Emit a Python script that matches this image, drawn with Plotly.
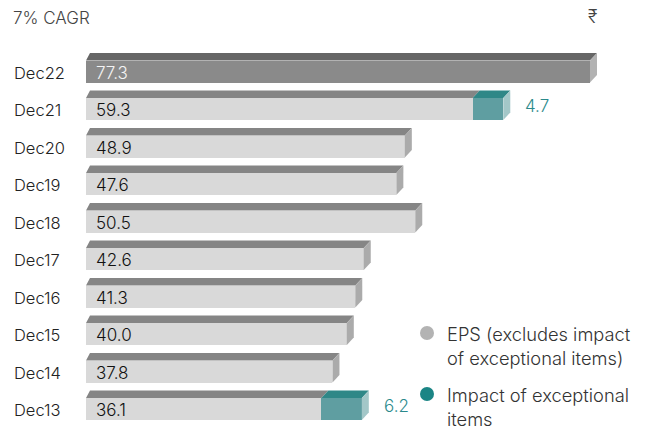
import plotly.graph_objects as go

# ---- data ----
years = ["Dec22", "Dec21", "Dec20", "Dec19", "Dec18", "Dec17", "Dec16", "Dec15", "Dec14", "Dec13"]
eps = [77.3, 59.3, 48.9, 47.6, 50.5, 42.6, 41.3, 40.0, 37.8, 36.1]
exceptional = [0, 4.7, 0, 0, 0, 0, 0, 0, 0, 6.2]
title_text = "7% CAGR"
currency = "₹"
legend_labels = ["EPS (excludes impact<br>of exceptional items)", "Impact of exceptional<br>items"]

# ---- layout constants ----
W, H = 647, 430
ML, MR, MT, MB = 86, 0, 45, 0
PW, PH = W - ML - MR, H - MT - MB
PX_PER_UNIT = 6.52
XMAX = PW / PX_PER_UNIT
ROW_PX = 37.5
Y_TOP = -(71.5 - MT) / ROW_PX  # value at top of plot (index of Dec22 = 0)
Y_BOT = Y_TOP + PH / ROW_PX
BAR_W = 22 / ROW_PX
DY = 7.5 / ROW_PX
DXL = 4 / PX_PER_UNIT
DXR = 7 / PX_PER_UNIT

FONT = "Inter"
WEIGHT = 300
GRAY_FRONT, GRAY_TOP, GRAY_SIDE = "#d9d9d9", "#858585", "#ababab"
DARK_FRONT, DARK_TOP, DARK_SIDE = "#8a8a8a", "#666666", "#b2b2b2"
TEAL_FRONT, TEAL_TOP, TEAL_SIDE = "#5f9ea1", "#2f8787", "#a3c7c8"
TEAL_TEXT = "#2b8a8c"

front_colors = [DARK_FRONT if i == 0 else GRAY_FRONT for i in range(len(years))]

fig = go.Figure()
fig.add_trace(go.Bar(
    y=years, x=eps, orientation="h", marker=dict(color=front_colors, line=dict(width=0)),
    width=BAR_W, showlegend=False, hoverinfo="x+y",
))
fig.add_trace(go.Bar(
    y=years, x=exceptional, orientation="h", marker=dict(color=TEAL_FRONT, line=dict(width=0)),
    width=BAR_W, showlegend=False, hoverinfo="x+y",
))

shapes = []
annotations = []


def px_x(p):
    return (p - ML) / PW


def px_y(p):
    return 1 - (p - MT) / PH


def para(x0, x1, ytop, color, dxl, dxr):
    yb = ytop
    yt = ytop - DY
    return dict(type="path", xref="x", yref="y", layer="above",
                path=f"M {x0},{yb} L {x1},{yb} L {x1 + dxr},{yt} L {x0 + dxl},{yt} Z",
                fillcolor=color, line=dict(width=0))


for i, (yr, v, e) in enumerate(zip(years, eps, exceptional)):
    ytop = i - BAR_W / 2
    ybot = i + BAR_W / 2
    top_col = DARK_TOP if i == 0 else GRAY_TOP
    side_col = DARK_SIDE if i == 0 else GRAY_SIDE
    end = v + e
    shapes.append(para(0, v, ytop, top_col, DXL, DXR))
    if e > 0:
        shapes.append(para(v, end, ytop, TEAL_TOP, DXR, DXR))
        side_col = TEAL_SIDE
    shapes.append(dict(type="path", xref="x", yref="y", layer="above",
                       path=f"M {end},{ytop} L {end + DXR},{ytop - DY} L {end + DXR},{ybot - DY} L {end},{ybot} Z",
                       fillcolor=side_col, line=dict(width=0)))
    # category label (left aligned)
    annotations.append(dict(x=px_x(12), y=yr, xref="paper", yref="y", text=yr, showarrow=False,
                            xanchor="left", yshift=-1,
                            font=dict(family=FONT, size=16.5, weight=WEIGHT, color="#222222")))
    # value label
    annotations.append(dict(x=0, y=yr, xref="x", yref="y", text=f"{v:.1f}", showarrow=False,
                            xanchor="left", xshift=8, yshift=-1,
                            font=dict(family=FONT, size=17, weight=WEIGHT,
                                      color="#f4f4f4" if i == 0 else "#111111")))
    if e > 0:
        annotations.append(dict(x=end + DXR, y=yr, xref="x", yref="y", text=f"{e:.1f}", showarrow=False,
                                xanchor="left", xshift=13, yshift=3,
                                font=dict(family=FONT, size=17, weight=WEIGHT, color=TEAL_TEXT)))


annotations.append(dict(x=px_x(11), y=px_y(18), xref="paper", yref="paper", text=title_text,
                        showarrow=False, xanchor="left", yanchor="middle",
                        font=dict(family=FONT, size=17, weight=WEIGHT, color="#444444")))
annotations.append(dict(x=px_x(592), y=px_y(17), xref="paper", yref="paper", text=currency,
                        showarrow=False, xanchor="center", yanchor="middle",
                        font=dict(family=FONT, size=18, weight=WEIGHT, color="#444444")))

# legend
leg_colors = ["#b3b3b3", "#1b8585"]
leg_y = [333, 394]
for lbl, col, ly in zip(legend_labels, leg_colors, leg_y):
    shapes.append(dict(type="circle", xref="paper", yref="paper",
                       x0=px_x(420), x1=px_x(434), y0=px_y(ly - 7), y1=px_y(ly + 7),
                       fillcolor=col, line=dict(width=0), layer="above"))
    annotations.append(dict(x=px_x(445), y=px_y(ly - 12.5), xref="paper", yref="paper", text=lbl,
                            showarrow=False, xanchor="left", yanchor="top", align="left",
                            font=dict(family=FONT, size=18.3, weight=WEIGHT, color="#333333")))

fig.update_layout(
    width=W, height=H, margin=dict(l=ML, r=MR, t=MT, b=MB, autoexpand=False),
    barmode="stack", bargap=0,
    paper_bgcolor="white", plot_bgcolor="white",
    xaxis=dict(range=[0, XMAX], visible=False, fixedrange=True, automargin=False),
    yaxis=dict(type="category", categoryorder="array", categoryarray=years,
               range=[Y_BOT, Y_TOP], showgrid=False, zeroline=False, showline=False,
               ticks="", showticklabels=False, automargin=False, fixedrange=True),
    shapes=shapes, annotations=annotations, showlegend=False,
)

fig.write_html("out.html", config={"displayModeBar": False},
               post_script="document.body.style.margin='0';document.body.style.padding='0';")
